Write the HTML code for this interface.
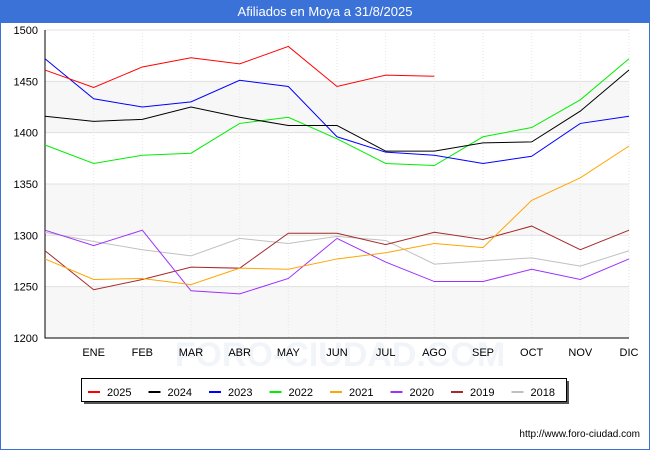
<!DOCTYPE html>
<html><head><meta charset="utf-8"><style>
body{margin:0;width:650px;height:450px;overflow:hidden;background:#fff;font-family:"Liberation Sans",sans-serif}
</style></head><body>
<svg width="650" height="450" xmlns="http://www.w3.org/2000/svg">
<rect x="0" y="0" width="650" height="450" fill="#fff" stroke="#3a6fd8" stroke-width="2"/>
<rect x="0" y="0" width="650" height="23" fill="#3a72d8"/>
<text x="325" y="16" text-anchor="middle" font-size="13" fill="#fff">Afiliados en Moya a 31/8/2025</text>
<g id="plot"></g>
<g id="legend"></g>
<text x="640" y="437" text-anchor="end" font-size="10" fill="#000">http://www.foro-ciudad.com</text>
</svg>
<script>
const months=["","ENE","FEB","MAR","ABR","MAY","JUN","JUL","AGO","SEP","OCT","NOV","DIC"];
const yTicks=[1200,1250,1300,1350,1400,1450,1500];
const seriesNames=["2025","2024","2023","2022","2021","2020","2019","2018"];
const seriesColors=["#ff0000","#000000","#0000ff","#00ee00","#ffa500","#9b30ff","#a52a2a","#c0c0c0"];
const s2025=[1461,1444,1464,1473,1467,1484,1445,1456,1455];
const s2024=[1416,1411,1413,1425,1415,1407,1407,1382,1382,1390,1391,1421,1461];
const s2023=[1472,1433,1425,1430,1451,1445,1396,1381,1378,1370,1377,1409,1416];
const s2022=[1388,1370,1378,1380,1409,1415,1394,1370,1368,1396,1405,1432,1472];
const s2021=[1277,1257,1258,1252,1268,1267,1277,1283,1292,1288,1334,1356,1387];
const s2020=[1305,1290,1305,1246,1243,1258,1297,1274,1255,1255,1267,1257,1277];
const s2019=[1285,1247,1257,1269,1268,1302,1302,1291,1303,1296,1309,1286,1305];
const s2018=[1303,1294,1286,1280,1297,1292,1299,1295,1272,1275,1278,1270,1285];
const allSeries=[s2025,s2024,s2023,s2022,s2021,s2020,s2019,s2018];
const NS="http://www.w3.org/2000/svg";
const X0=45,X1=629,Y0=338,Y1=30,vMin=1200,vMax=1500;
const xs=i=>X0+i*(X1-X0)/12;
const ys=v=>Y0-(v-vMin)/(vMax-vMin)*(Y0-Y1);
function mk(t,a,p){const e=document.createElementNS(NS,t);for(const k in a)e.setAttribute(k,a[k]);p.appendChild(e);return e;}
const plot=document.getElementById('plot');
for(let i=0;i<yTicks.length-1;i++){
 if(i%2===0){const r=mk('rect',{x:X0,y:ys(yTicks[i+1]),width:X1-X0,height:ys(yTicks[i])-ys(yTicks[i+1]),fill:'#f7f7f7'},plot);
 
 }
}
const wm=mk('text',{x:340,y:366,'text-anchor':'middle','font-size':34,fill:'#f1f4f9','font-weight':'bold'},plot);
wm.textContent='FORO-CIUDAD.COM';


yTicks.forEach(v=>{
 const l=mk('line',{x1:X0,x2:X1,y1:ys(v),y2:ys(v),stroke:'#e0e0e0'},plot);
 
 
 const t=mk('text',{x:X0-7,y:ys(v)+4,'text-anchor':'end','font-size':11},plot);t.textContent=v;
 
 
});
months.forEach((m,i)=>{
 if(i>0){const g=mk('line',{x1:xs(i),x2:xs(i),y1:Y1,y2:Y0,stroke:'#e6e6e6','stroke-dasharray':'1,2'},plot);
 
 }
 const t=mk('text',{x:xs(i),y:356,'text-anchor':'middle','font-size':11},plot);t.textContent=m;
 
 
});
const ax=mk('polyline',{points:`${X0},${Y1} ${X0},${Y0} ${X1},${Y0}`,fill:'none',stroke:'#000'},plot);


for(let k=allSeries.length-1;k>=0;k--){
 const pts=allSeries[k].map((v,i)=>xs(i)+','+ys(v)).join(' ');
 const p=mk('polyline',{points:pts,fill:'none',stroke:seriesColors[k],'stroke-width':1},plot);
 
 
}
const lg=document.getElementById('legend');
const sh=mk('rect',{x:84,y:381,width:485,height:23,fill:'#555'},lg);


const box=mk('rect',{x:81.5,y:378.5,width:485,height:23,fill:'#fff',stroke:'#000'},lg);


seriesNames.forEach((n,k)=>{
 const x=88+k*60.5;
 const l=mk('line',{x1:x,x2:x+12,y1:392,y2:392,stroke:seriesColors[k],'stroke-width':2},lg);
 
 
 const t=mk('text',{x:x+19,y:396,'font-size':11},lg);t.textContent=n;
 
 
});
</script>
</body></html>
